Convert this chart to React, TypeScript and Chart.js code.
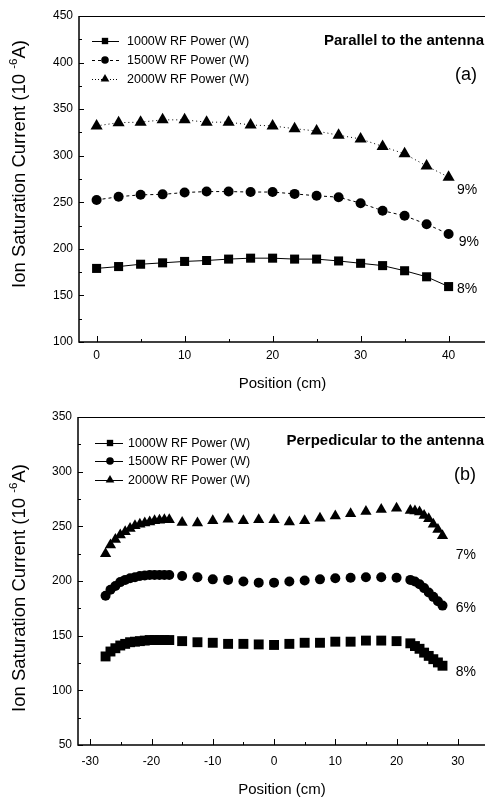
import React, { useEffect, useRef } from "react";
import { Chart, registerables } from "chart.js";

Chart.register(...registerables);

const SANS = "'Liberation Sans', Arial, Helvetica, sans-serif";

const seriesLabels = ["1000W RF Power (W)", "1500W RF Power (W)", "2000W RF Power (W)"];

// ---------- Panel (a): parallel to the antenna ----------
const positionA = [0, 2.5, 5, 7.5, 10, 12.5, 15, 17.5, 20, 22.5, 25, 27.5, 30, 32.5, 35, 37.5, 40];
const currentA1000 = [179, 181, 183.5, 185, 186.5, 187.5, 189, 190, 190, 189, 189, 187, 184.5, 182, 176.5, 170, 159.5];
const currentA1500 = [252.5, 256, 258, 258.5, 260.5, 261.5, 261.5, 261, 261, 259, 257, 255.5, 249, 241, 235.5, 226.5, 216];
const currentA2000 = [332, 335.5, 336, 338.5, 338.5, 336, 336, 333, 332, 329, 326.5, 322, 318, 310, 302, 289, 277];
const xTicksA = [0, 10, 20, 30, 40];
const xMinorA = [5, 15, 25, 35];
const yTicksA = [100, 150, 200, 250, 300, 350, 400, 450];
const yMinorA = [125, 175, 225, 275, 325, 375, 425];
const percentA = ["9%", "9%", "8%"];

// ---------- Panel (b): perpendicular to the antenna ----------
const positionB = [
  -27.5, -26.7, -25.9, -25.1, -24.3, -23.5, -22.7, -21.9, -21.1, -20.3, -19.5, -18.7, -17.9, -17.1,
  -15, -12.5, -10, -7.5, -5, -2.5, 0, 2.5, 5, 7.5, 10, 12.5, 15, 17.5, 20,
  22.25, 23, 23.75, 24.5, 25.25, 26, 26.75, 27.5,
];
const currentB1000 = [
  131, 135.5, 138.5, 141, 142.5, 144, 144.5, 145, 145.5, 146, 146, 146, 146, 146,
  145, 144, 143.5, 142.5, 142.5, 142, 141.5, 142.5, 143.5, 143.5, 144.5, 144.5, 145.5, 145.5, 145,
  143, 140.5, 138, 134.5, 131.5, 128.5, 125.5, 122.5,
];
const currentB1500 = [
  186.5, 192, 195.5, 199, 201, 202.5, 203.5, 204.5, 205, 205.5, 205.5, 205.5, 205.5, 205.5,
  204.5, 203.5, 201.5, 201, 199.5, 198.5, 198.5, 199.5, 200.5, 201.5, 202.5, 203, 203.5, 203.5, 203,
  201, 199.5, 197, 193.5, 189.5, 185.5, 181.5, 177.5,
];
const currentB2000 = [
  225, 233, 238, 242, 245, 248, 250.5, 252, 253, 254, 255, 255.5, 256, 256,
  253.5, 253, 255, 256.5, 255, 256, 256, 254, 255, 257.5, 259.5, 261.5, 263.5, 265.5, 266.5,
  264.5, 264, 263, 260, 257, 252, 247, 241.5,
];
const xTicksB = [-30, -20, -10, 0, 10, 20, 30];
const xMinorB = [-25, -15, -5, 5, 15, 25];
const yTicksB = [50, 100, 150, 200, 250, 300, 350];
const yMinorB = [75, 125, 175, 225, 275, 325];
const percentB = ["7%", "6%", "8%"];

type PStyle = "rect" | "circle" | "triangle";
const pointStyles: PStyle[] = ["rect", "circle", "triangle"];

interface Panel {
  x: number[];
  ys: number[][];
  xMin: number;
  xMax: number;
  yMin: number;
  yMax: number;
  xTicks: number[];
  xMinor: number[];
  yTicks: number[];
  yMinor: number[];
  title: string;
  tag: string;
  pct: string[];
  pctAt: [number, number][];
  showLines: boolean;
  dashes: number[][];
  legendDashes: number[][];
  radii: number[];
  legendRadii: number[];
  legendY: number[];
  legendX: [number, number, number, number];
  padTop: number;
  yAxisWidth: number;
  xAxisHeight: number;
  xTickPad: number;
  xTitlePad: number;
  yTitleCenter: [number, number];
  titleY: number;
  tagPos: [number, number];
}

function drawMarker(ctx: CanvasRenderingContext2D, style: PStyle, x: number, y: number, r: number) {
  ctx.beginPath();
  if (style === "rect") {
    const s = Math.SQRT1_2 * r;
    ctx.rect(x - s, y - s, 2 * s, 2 * s);
  } else if (style === "circle") {
    ctx.arc(x, y, r, 0, Math.PI * 2);
  } else {
    const t = (2 * Math.PI) / 3;
    ctx.moveTo(x, y - r);
    ctx.lineTo(x + Math.sin(t) * r, y - Math.cos(t) * r);
    ctx.lineTo(x + Math.sin(2 * t) * r, y - Math.cos(2 * t) * r);
    ctx.closePath();
  }
  ctx.fill();
}

const decorPlugin = {
  id: "decor",
  afterDraw(chart: any, _args: any, p: Panel) {
    const { ctx, chartArea: a } = chart;
    const xs = chart.scales.x;
    const ys = chart.scales.y;
    ctx.save();
    ctx.strokeStyle = "#000";
    ctx.fillStyle = "#000";
    // frame
    ctx.lineWidth = 1.5;
    ctx.beginPath();
    ctx.moveTo(a.left, a.top);
    ctx.lineTo(a.left, a.bottom);
    ctx.lineTo(a.right, a.bottom);
    ctx.stroke();
    ctx.lineWidth = 1;
    ctx.beginPath();
    ctx.moveTo(a.left, a.top + 0.5);
    ctx.lineTo(a.right, a.top + 0.5);
    ctx.stroke();
    // inward ticks
    ctx.lineWidth = 1;
    const xt = (vals: number[], len: number) => {
      vals.forEach((v) => {
        const px = Math.round(xs.getPixelForValue(v)) + 0.5;
        ctx.beginPath();
        ctx.moveTo(px, a.bottom);
        ctx.lineTo(px, a.bottom - len);
        ctx.stroke();
      });
    };
    const yt = (vals: number[], len: number) => {
      vals.forEach((v) => {
        const py = Math.round(ys.getPixelForValue(v)) + 0.5;
        ctx.beginPath();
        ctx.moveTo(a.left, py);
        ctx.lineTo(a.left + len, py);
        ctx.stroke();
      });
    };
    xt(p.xTicks, 6);
    xt(p.xMinor, 3);
    yt(p.yTicks, 5);
    yt(p.yMinor, 3);

    // y axis title with superscript
    ctx.save();
    ctx.translate(p.yTitleCenter[0], p.yTitleCenter[1]);
    ctx.rotate(-Math.PI / 2);
    ctx.textBaseline = "middle";
    ctx.textAlign = "left";
    const big = `18.5px ${SANS}`;
    const small = `11.5px ${SANS}`;
    const s1 = "Ion Saturation Current (10 ";
    const s2 = "-6";
    const s3 = "A)";
    ctx.font = big;
    const w1 = ctx.measureText(s1).width;
    const w3 = ctx.measureText(s3).width;
    ctx.font = small;
    const w2 = ctx.measureText(s2).width;
    let cx = -(w1 + w2 + w3) / 2;
    ctx.font = big;
    ctx.fillText(s1, cx, 0);
    cx += w1;
    ctx.font = small;
    ctx.fillText(s2, cx, -6);
    cx += w2;
    ctx.font = big;
    ctx.fillText(s3, cx, 0);
    ctx.restore();

    // legend
    const [l0, l1, lm, lt] = p.legendX;
    chart.data.datasets.forEach((ds: any, i: number) => {
      const y = p.legendY[i];
      ctx.save();
      ctx.lineWidth = 1;
      ctx.setLineDash(p.legendDashes[i]);
      ctx.beginPath();
      ctx.moveTo(l0, y + 0.5);
      ctx.lineTo(l1, y + 0.5);
      ctx.stroke();
      ctx.restore();
      drawMarker(ctx, pointStyles[i], lm, y, p.legendRadii[i]);
      ctx.font = `12.5px ${SANS}`;
      ctx.textAlign = "left";
      ctx.textBaseline = "middle";
      ctx.fillText(ds.label, lt, y + 0.5);
    });

    // panel title & tag
    ctx.font = `bold 15px ${SANS}`;
    ctx.textAlign = "right";
    ctx.textBaseline = "middle";
    ctx.fillText(p.title, a.right - 2, p.titleY);
    ctx.font = `18px ${SANS}`;
    ctx.textAlign = "center";
    ctx.fillText(p.tag, p.tagPos[0], p.tagPos[1]);

    // percentage labels
    ctx.font = `14px ${SANS}`;
    ctx.textAlign = "center";
    p.pct.forEach((t, i) => {
      const [vx, vy] = p.pctAt[i];
      ctx.fillText(t, xs.getPixelForValue(vx), ys.getPixelForValue(vy));
    });
    ctx.restore();
  },
};

function buildChart(canvas: HTMLCanvasElement, p: Panel) {
  return new Chart(canvas, {
    type: "scatter",
    data: {
      datasets: p.ys.map((vals, i) => ({
        label: seriesLabels[i],
        data: p.x.map((x, j) => ({ x, y: vals[j] })),
        showLine: p.showLines,
        borderColor: "#000",
        backgroundColor: "#000",
        borderWidth: 1,
        borderDash: p.dashes[i],
        pointStyle: pointStyles[i],
        pointRadius: p.radii[i],
        pointHoverRadius: p.radii[i],
        pointBorderWidth: 0,
        pointBackgroundColor: "#000",
      })),
    },
    options: {
      animation: false,
      responsive: true,
      maintainAspectRatio: false,
      layout: { padding: { top: p.padTop, left: 0, right: 0, bottom: 0 } },
      plugins: {
        legend: { display: false },
        tooltip: { enabled: false },
        decor: p,
      } as any,
      scales: {
        x: {
          type: "linear",
          min: p.xMin,
          max: p.xMax,
          afterBuildTicks: (s: any) => {
            s.ticks = p.xTicks.map((v) => ({ value: v }));
          },
          afterFit: (s: any) => {
            s.height = p.xAxisHeight;
          },
          grid: { display: false, drawTicks: false },
          border: { display: false },
          ticks: {
            color: "#000",
            font: { family: SANS, size: 12 },
            padding: p.xTickPad,
            maxRotation: 0,
            autoSkip: false,
          },
          title: {
            display: true,
            text: "Position (cm)",
            color: "#000",
            font: { family: SANS, size: 15 },
            padding: { top: 0, bottom: p.xTitlePad },
          },
        },
        y: {
          type: "linear",
          min: p.yMin,
          max: p.yMax,
          afterBuildTicks: (s: any) => {
            s.ticks = p.yTicks.map((v) => ({ value: v }));
          },
          afterFit: (s: any) => {
            s.width = p.yAxisWidth;
          },
          grid: { display: false, drawTicks: false },
          border: { display: false },
          ticks: {
            color: "#000",
            font: { family: SANS, size: 12 },
            padding: 6,
            autoSkip: false,
          },
        },
      },
    },
    plugins: [decorPlugin as any],
  });
}

const panelA: Panel = {
  x: positionA,
  ys: [currentA1000, currentA1500, currentA2000],
  xMin: -2,
  xMax: 44.25,
  yMin: 100,
  yMax: 450,
  xTicks: xTicksA,
  xMinor: xMinorA,
  yTicks: yTicksA,
  yMinor: yMinorA,
  title: "Parallel to the antenna",
  tag: "(a)",
  pct: percentA,
  pctAt: [
    [42.1, 263],
    [42.3, 207],
    [42.1, 157],
  ],
  showLines: true,
  dashes: [[], [3, 3], [1, 3]],
  legendDashes: [[], [3, 3], [1, 2]],
  radii: [6.4, 5, 7],
  legendRadii: [4.5, 3.8, 5],
  legendY: [41, 60, 79],
  legendX: [92, 119, 105, 127],
  padTop: 16,
  yAxisWidth: 79,
  xAxisHeight: 58,
  xTickPad: 6,
  xTitlePad: 7,
  yTitleCenter: [20, 164],
  titleY: 41,
  tagPos: [466, 75],
};

const panelB: Panel = {
  x: positionB,
  ys: [currentB1000, currentB1500, currentB2000],
  xMin: -32,
  xMax: 34.6,
  yMin: 50,
  yMax: 350,
  xTicks: xTicksB,
  xMinor: xMinorB,
  yTicks: yTicksB,
  yMinor: yMinorB,
  title: "Perpedicular to the antenna",
  tag: "(b)",
  pct: percentB,
  pctAt: [
    [31.3, 224],
    [31.3, 175],
    [31.3, 117],
  ],
  showLines: false,
  dashes: [[], [], []],
  legendDashes: [[], [], []],
  radii: [7, 5, 6.5],
  legendRadii: [4.5, 3.8, 5],
  legendY: [43, 61, 80],
  legendX: [95, 123, 110, 128],
  padTop: 17,
  yAxisWidth: 78,
  xAxisHeight: 55,
  xTickPad: 9,
  xTitlePad: 1,
  yTitleCenter: [20, 188],
  titleY: 41,
  tagPos: [465, 75],
};

function PanelChart({ panel }: { panel: Panel }) {
  const ref = useRef<HTMLCanvasElement | null>(null);
  useEffect(() => {
    if (!ref.current) return;
    const c = buildChart(ref.current, panel);
    return () => c.destroy();
  }, [panel]);
  return (
    <div style={{ position: "relative", width: 493, height: 400 }}>
      <canvas ref={ref} />
    </div>
  );
}

export default function App() {
  return (
    <div style={{ marginLeft: -8, marginTop: -8, width: 493, background: "#fff" }}>
      <PanelChart panel={panelA} />
      <PanelChart panel={panelB} />
    </div>
  );
}
